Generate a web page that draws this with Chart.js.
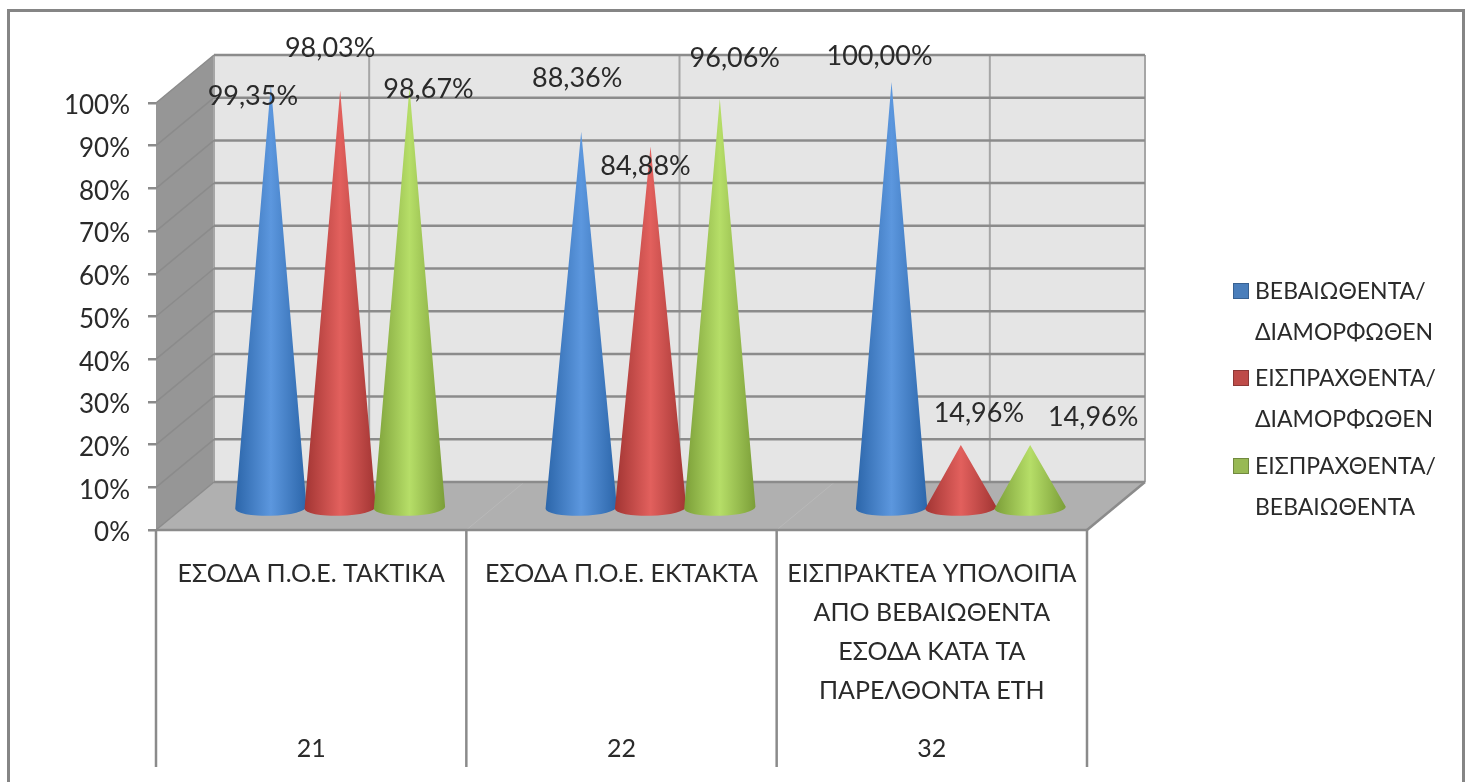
<!DOCTYPE html>
<html>
<head>
<meta charset="utf-8">
<title>Chart</title>
<script src="https://cdn.jsdelivr.net/npm/chart.js@4"></script>
<style>
  html, body { margin:0; padding:0; background:#fff; }
  canvas { display:block; }
</style>
</head>
<body>
<canvas id="chart" width="1470" height="782"></canvas>
<script>
// data
var categories = [
  ['ΕΣΟΔΑ Π.Ο.Ε. ΤΑΚΤΙΚΑ'],
  ['ΕΣΟΔΑ Π.Ο.Ε. ΕΚΤΑΚΤΑ'],
  ['ΕΙΣΠΡΑΚΤΕΑ ΥΠΟΛΟΙΠΑ', 'ΑΠΟ ΒΕΒΑΙΩΘΕΝΤΑ', 'ΕΣΟΔΑ ΚΑΤΑ ΤΑ', 'ΠΑΡΕΛΘΟΝΤΑ ΕΤΗ']
];
var codes = ['21', '22', '32'];
var seriesNames = [
  ['ΒΕΒΑΙΩΘΕΝΤΑ/', 'ΔΙΑΜΟΡΦΩΘΕΝ'],
  ['ΕΙΣΠΡΑΧΘΕΝΤΑ/', 'ΔΙΑΜΟΡΦΩΘΕΝ'],
  ['ΕΙΣΠΡΑΧΘΕΝΤΑ/', 'ΒΕΒΑΙΩΘΕΝΤΑ']
];
var blueValues = [99.35, 88.36, 100];
var redValues = [98.03, 84.88, 14.96];
var greenValues = [98.67, 96.06, 14.96];

// styles
var FONT = 'Lato, "Open Sans", sans-serif';
var TEXT = '#2a2a2a';
var cones = [
  { edge:'#2c66aa', mid:'#5c97de', marker:'#4a7ebb', border:'#386192' },
  { edge:'#a23533', mid:'#e2605d', marker:'#be4b48', border:'#8c3836' },
  { edge:'#7b9e38', mid:'#b6de68', marker:'#98b954', border:'#71893f' }
];
// 3D depth of the box, and how far in the cones stand
var DX = 58, DY = -48, CONE_DX = 29, CONE_DY = -21;
// labels were hand placed in the original: offset from cone tip, per category then series
var labelShift = [
  [[-18, 12], [-10, -42], [19, 2]],
  [[-4, -53], [-5, 20], [15, -41]],
  [[-12, -26], [18, -32], [63, -28]]
];
var legendRows = [291, 378, 466];

function line(ctx, x1, y1, x2, y2) {
  ctx.beginPath(); ctx.moveTo(x1, y1); ctx.lineTo(x2, y2); ctx.stroke();
}

function poly(ctx, pts, fill) {
  ctx.fillStyle = fill;
  ctx.beginPath();
  pts.forEach(function(p, i) { if (i === 0) ctx.moveTo(p[0], p[1]); else ctx.lineTo(p[0], p[1]); });
  ctx.closePath();
  ctx.fill();
}

// walls, floor, gridlines
var boxPlugin = {
  id: 'box',
  beforeDatasetsDraw: function(chart) {
    var ctx = chart.ctx, x = chart.scales.x, y = chart.scales.y;
    var l = x.left, r = x.right, t = y.getPixelForValue(100), b = y.getPixelForValue(0);
    var n = categories.length;
    ctx.save();
    poly(ctx, [[l+DX, t+DY], [r+DX, t+DY], [r+DX, b+DY], [l+DX, b+DY]], '#e5e5e5');
    poly(ctx, [[l, t], [l+DX, t+DY], [l+DX, b+DY], [l, b]], '#969696');
    poly(ctx, [[l, b], [l+DX, b+DY], [r+DX, b+DY], [r, b]], '#b0b0b0');

    // back wall verticals sit on the category centres, plus both ends
    ctx.lineWidth = 2;
    ctx.strokeStyle = '#a6a6a6';
    line(ctx, l + DX, t + DY, l + DX, b + DY);
    line(ctx, r + DX, t + DY, r + DX, b + DY);
    categories.forEach(function(c, i) {
      var cx = x.getPixelForValue(i) + DX;
      line(ctx, cx, t + DY, cx, b + DY);
    });
    // faint floor lines
    ctx.lineWidth = 1;
    ctx.strokeStyle = '#b9b9b9';
    for (var i = 1; i < n; i++) {
      var vx = l + i * (r - l) / n;
      line(ctx, vx, b, vx + DX, b + DY);
    }
    y.ticks.forEach(function(tick) {
      var py = y.getPixelForValue(tick.value);
      ctx.strokeStyle = '#8b8b8b';
      ctx.lineWidth = 2.5;
      line(ctx, l + DX, py + DY, r + DX, py + DY);
      ctx.lineWidth = 1.5;
      line(ctx, l, py, l + DX, py + DY);
    });
    ctx.lineWidth = 2.5;
    line(ctx, r, b, r + DX, b + DY);
    line(ctx, l, b, r, b);

    // separators under the axis
    for (var j = 0; j <= n; j++) {
      var sx = l + j * (r - l) / n;
      line(ctx, sx, b, sx, 767);
    }
    ctx.restore();
  }
};

// cones on top of the (invisible) bars
var conePlugin = {
  id: 'cones',
  afterDatasetsDraw: function(chart) {
    var ctx = chart.ctx;
    ctx.save();
    chart.data.datasets.forEach(function(ds, si) {
      chart.getDatasetMeta(si).data.forEach(function(bar) {
        var cx = bar.x + CONE_DX, tip = bar.y + CONE_DY, base = bar.base + CONE_DY;
        var rx = bar.width / 2 + 1, ry = 8;
        var g = ctx.createLinearGradient(cx - rx, 0, cx + rx, 0);
        g.addColorStop(0, cones[si].edge);
        g.addColorStop(0.5, cones[si].mid);
        g.addColorStop(1, cones[si].edge);
        ctx.fillStyle = g;
        ctx.beginPath();
        ctx.moveTo(cx, tip);
        ctx.lineTo(cx + rx, base - 1);
        ctx.ellipse(cx, base, rx, ry, -0.03, 0, Math.PI);
        ctx.closePath();
        ctx.fill();
      });
    });
    // data labels
    ctx.font = '27px ' + FONT;
    ctx.fillStyle = TEXT;
    ctx.textAlign = 'center';
    ctx.textBaseline = 'middle';
    chart.data.datasets.forEach(function(ds, si) {
      chart.getDatasetMeta(si).data.forEach(function(bar, ci) {
        var s = labelShift[ci][si];
        var txt = ds.data[ci].toFixed(2).replace('.', ',') + '%';
        ctx.fillText(txt, bar.x + CONE_DX + s[0], bar.y + CONE_DY + s[1]);
      });
    });
    ctx.restore();
  }
};

// two line legend and outer frame
var legendPlugin = {
  id: 'legendBox',
  afterDraw: function(chart) {
    var ctx = chart.ctx;
    ctx.save();
    ctx.font = '23px ' + FONT;
    ctx.textAlign = 'left';
    ctx.textBaseline = 'middle';
    seriesNames.forEach(function(lines, si) {
      var ry = legendRows[si];
      ctx.fillStyle = cones[si].marker;
      ctx.strokeStyle = cones[si].border;
      ctx.lineWidth = 1;
      ctx.fillRect(1233.5, ry - 7.5, 15, 15);
      ctx.strokeRect(1233.5, ry - 7.5, 15, 15);
      ctx.fillStyle = TEXT;
      lines.forEach(function(t, k) { ctx.fillText(t, 1255, ry + 1 + k * 41); });
    });
    ctx.strokeStyle = '#858585';
    ctx.lineWidth = 3;
    ctx.beginPath();
    ctx.moveTo(8.5, 782); ctx.lineTo(8.5, 10.5); ctx.lineTo(1463.5, 10.5); ctx.lineTo(1463.5, 782);
    ctx.stroke();
    ctx.restore();
  }
};

new Chart(document.getElementById('chart').getContext('2d'), {
  type: 'bar',
  data: {
    labels: categories,
    datasets: [
      { label: seriesNames[0].join(' '), data: blueValues },
      { label: seriesNames[1].join(' '), data: redValues },
      { label: seriesNames[2].join(' '), data: greenValues }
    ].map(function(d) { d.backgroundColor = 'transparent'; return d; })
  },
  options: {
    responsive: false,
    animation: false,
    categoryPercentage: 0.67,
    barPercentage: 1,
    layout: { padding: { left: 0, top: 103, right: 383, bottom: 0 } },
    plugins: { legend: { display: false }, tooltip: { enabled: false } },
    scales: {
      x: {
        weight: 0,
        grid: { display: false },
        border: { display: false },
        ticks: { color: TEXT, font: { family: FONT, size: 25, lineHeight: 1.57 }, padding: 16, autoSkip: false, maxRotation: 0 },
        afterFit: function(s) { s.height = 205; }
      },
      x2: {
        type: 'category',
        labels: codes,
        position: 'bottom',
        weight: 1,
        offset: true,
        grid: { display: false },
        border: { display: false },
        ticks: { color: TEXT, font: { family: FONT, size: 25 }, padding: -9 },
        afterFit: function(s) { s.height = 47; }
      },
      y: {
        min: 0,
        max: 100,
        grid: { drawOnChartArea: false, color: '#8b8b8b', lineWidth: 2.5, tickLength: 8 },
        border: { display: false },
        ticks: { stepSize: 10, color: TEXT, padding: 18, labelOffset: 3, font: { family: FONT, size: 26 }, callback: function(v) { return v + '%'; } },
        afterFit: function(s) { s.width = 156; }
      }
    }
  },
  plugins: [boxPlugin, conePlugin, legendPlugin]
});
</script>
</body>
</html>
